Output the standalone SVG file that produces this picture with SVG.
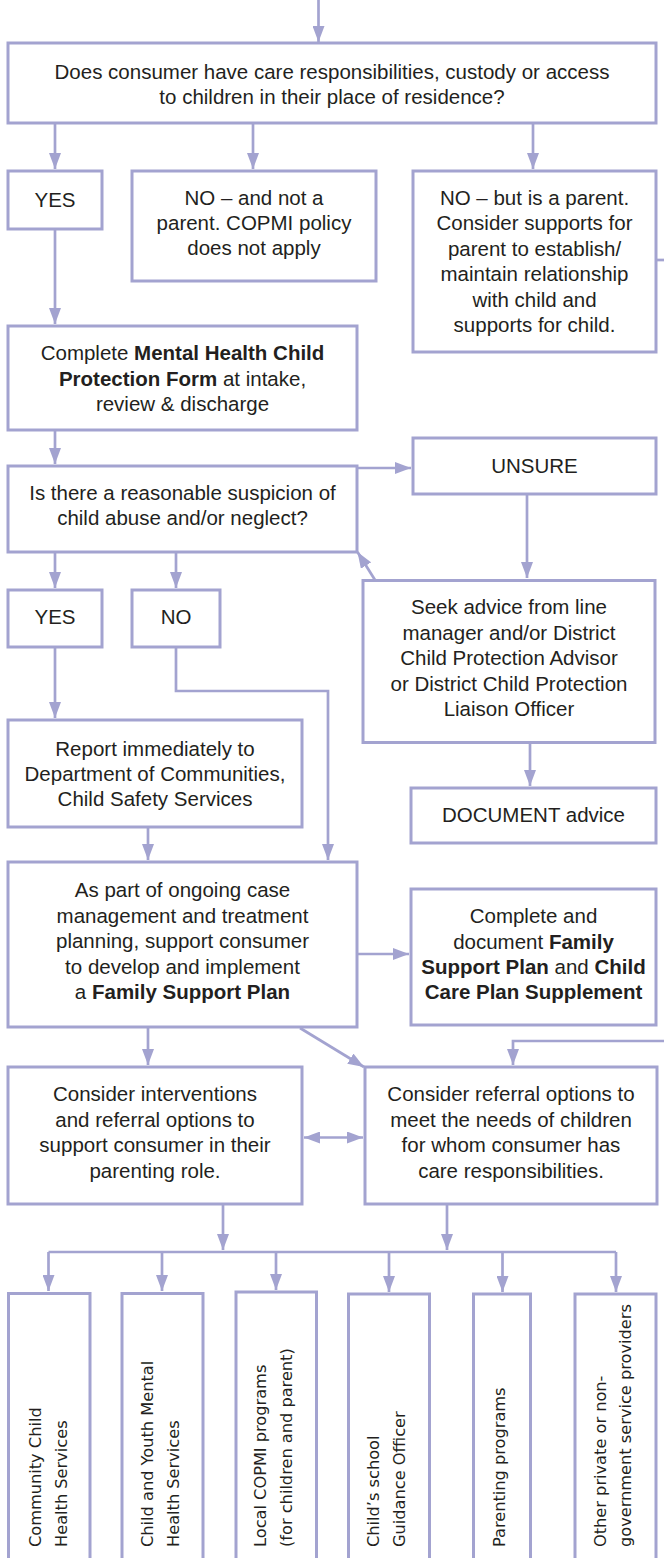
<svg xmlns="http://www.w3.org/2000/svg" width="664" height="1558" viewBox="0 0 664 1558">
<defs>
<style>
.box{fill:#fff;stroke:#A3A3D0;stroke-width:3}
.c{fill:none;stroke:#A3A3D0;stroke-width:2.7}
.a{marker-end:url(#ah)}
.t{font-family:"Liberation Sans",Arial,sans-serif;font-size:20.5px;fill:#231F20;text-anchor:middle}
.b{font-weight:bold}
.r{font-family:"DejaVu Sans",Verdana,sans-serif;font-size:16.2px;fill:#231F20}
</style>
<marker id="ah" viewBox="0 0 16 12" refX="16" refY="6" markerWidth="16" markerHeight="12" markerUnits="userSpaceOnUse" orient="auto-start-reverse">
<path d="M0,0 L16,6 L0,12 z" fill="#A3A3D0"/>
</marker>
</defs>
<rect width="664" height="1558" fill="#fff"/>

<g id="connectors">
<line class="c a" x1="318.5" y1="0" x2="318.5" y2="42"/>
<line class="c a" x1="55" y1="123" x2="55" y2="169"/>
<line class="c a" x1="253" y1="123" x2="253" y2="169"/>
<line class="c a" x1="533" y1="123" x2="533" y2="169"/>
<line class="c" x1="656" y1="260" x2="664" y2="260"/>
<line class="c a" x1="55" y1="229" x2="55" y2="324"/>
<line class="c a" x1="55" y1="430" x2="55" y2="464"/>
<line class="c a" x1="357" y1="468" x2="411" y2="468"/>
<line class="c a" x1="527" y1="494" x2="527" y2="578"/>
<line class="c a" x1="375" y1="580" x2="357.5" y2="552"/>
<line class="c a" x1="55" y1="552" x2="55" y2="588"/>
<line class="c a" x1="176" y1="552" x2="176" y2="588"/>
<polyline class="c a" points="176,647 176,691 328,691 328,860"/>
<line class="c a" x1="55" y1="647" x2="55" y2="718"/>
<line class="c a" x1="530" y1="743" x2="530" y2="786"/>
<line class="c a" x1="148" y1="827" x2="148" y2="860"/>
<line class="c a" x1="357" y1="954" x2="409" y2="954"/>
<line class="c a" x1="148" y1="1027" x2="148" y2="1065"/>
<line class="c a" x1="300" y1="1028" x2="364" y2="1067"/>
<polyline class="c a" points="664,1041 513,1041 513,1065"/>
<line class="c a" x1="304" y1="1137.5" x2="363" y2="1137.5" marker-start="url(#ah)"/>
<line class="c a" x1="223" y1="1204" x2="223" y2="1250"/>
<line class="c a" x1="447" y1="1204" x2="447" y2="1250"/>
<line class="c" x1="48.5" y1="1252" x2="616" y2="1252"/>
<line class="c a" x1="48.5" y1="1252" x2="48.5" y2="1291"/>
<line class="c a" x1="162" y1="1252" x2="162" y2="1291"/>
<line class="c a" x1="276" y1="1252" x2="276" y2="1290"/>
<line class="c a" x1="389" y1="1252" x2="389" y2="1292"/>
<line class="c a" x1="502.5" y1="1252" x2="502.5" y2="1292"/>
<line class="c a" x1="616" y1="1252" x2="616" y2="1292"/>
</g>

<g id="n-question1">
<rect class="box" x="8" y="43" width="648" height="80"/>
<text class="t" x="332" y="79">Does consumer have care responsibilities, custody or access</text>
<text class="t" x="332" y="104">to children in their place of residence?</text>
</g>

<g id="n-yes1">
<rect class="box" x="8" y="171" width="94" height="58"/>
<text class="t" x="55" y="207">YES</text>
</g>

<g id="n-no-not-parent">
<rect class="box" x="132" y="171" width="244" height="110"/>
<text class="t" x="254" y="205">NO – and not a</text>
<text class="t" x="254" y="230">parent. COPMI policy</text>
<text class="t" x="254" y="255">does not apply</text>
</g>

<g id="n-no-parent">
<rect class="box" x="413" y="171" width="243" height="181"/>
<text class="t" x="534.5" y="205">NO – but is a parent.</text>
<text class="t" x="534.5" y="230.4">Consider supports for</text>
<text class="t" x="534.5" y="255.8">parent to establish/</text>
<text class="t" x="534.5" y="281.2">maintain relationship</text>
<text class="t" x="534.5" y="306.6">with child and</text>
<text class="t" x="534.5" y="332">supports for child.</text>
</g>

<g id="n-form">
<rect class="box" x="8" y="326" width="349" height="104"/>
<text class="t" x="182.5" y="360">Complete <tspan class="b">Mental Health Child</tspan></text>
<text class="t" x="182.5" y="385.5"><tspan class="b">Protection Form</tspan> at intake,</text>
<text class="t" x="182.5" y="411">review &amp; discharge</text>
</g>

<g id="n-question2">
<rect class="box" x="8" y="466" width="349" height="86"/>
<text class="t" x="182.5" y="500">Is there a reasonable suspicion of</text>
<text class="t" x="182.5" y="525">child abuse and/or neglect?</text>
</g>

<g id="n-unsure">
<rect class="box" x="413" y="438" width="243" height="56"/>
<text class="t" x="534.5" y="473">UNSURE</text>
</g>

<g id="n-seek">
<rect class="box" x="363" y="580.5" width="292" height="162"/>
<text class="t" x="509" y="614">Seek advice from line</text>
<text class="t" x="509" y="639.5">manager and/or District</text>
<text class="t" x="509" y="665">Child Protection Advisor</text>
<text class="t" x="509" y="690.5">or District Child Protection</text>
<text class="t" x="509" y="716">Liaison Officer</text>
</g>

<g id="n-yes2">
<rect class="box" x="8" y="590" width="94" height="57"/>
<text class="t" x="55" y="624">YES</text>
</g>

<g id="n-no2">
<rect class="box" x="132" y="590" width="88" height="57"/>
<text class="t" x="176" y="624">NO</text>
</g>

<g id="n-report">
<rect class="box" x="8" y="720" width="294" height="107"/>
<text class="t" x="155" y="755.5">Report immediately to</text>
<text class="t" x="155" y="780.5">Department of Communities,</text>
<text class="t" x="155" y="805.5">Child Safety Services</text>
</g>

<g id="n-document">
<rect class="box" x="411" y="788" width="245" height="55"/>
<text class="t" x="533.5" y="822">DOCUMENT advice</text>
</g>

<g id="n-fsp">
<rect class="box" x="8" y="862" width="349" height="165"/>
<text class="t" x="182.5" y="897">As part of ongoing case</text>
<text class="t" x="182.5" y="922.5">management and treatment</text>
<text class="t" x="182.5" y="948">planning, support consumer</text>
<text class="t" x="182.5" y="973.5">to develop and implement</text>
<text class="t" x="182.5" y="999">a <tspan class="b">Family Support Plan</tspan></text>
</g>

<g id="n-complete">
<rect class="box" x="411" y="889" width="245" height="136"/>
<text class="t" x="533.5" y="923">Complete and</text>
<text class="t" x="533.5" y="948.5">document <tspan class="b">Family</tspan></text>
<text class="t" x="533.5" y="974"><tspan class="b">Support Plan</tspan> and <tspan class="b">Child</tspan></text>
<text class="t" x="533.5" y="998.5"><tspan class="b">Care Plan Supplement</tspan></text>
</g>

<g id="n-interventions">
<rect class="box" x="8" y="1067" width="294" height="137"/>
<text class="t" x="155" y="1100.5">Consider interventions</text>
<text class="t" x="155" y="1126.5">and referral options to</text>
<text class="t" x="155" y="1152">support consumer in their</text>
<text class="t" x="155" y="1178">parenting role.</text>
</g>

<g id="n-referral">
<rect class="box" x="365" y="1067" width="292" height="137"/>
<text class="t" x="511" y="1100.5">Consider referral options to</text>
<text class="t" x="511" y="1126.5">meet the needs of children</text>
<text class="t" x="511" y="1152">for whom consumer has</text>
<text class="t" x="511" y="1178">care responsibilities.</text>
</g>

<g id="n-community">
<rect class="box" x="8.5" y="1293.5" width="81.5" height="280"/>
<text class="r" transform="translate(41,1547) rotate(-90)">Community Child</text>
<text class="r" transform="translate(66.5,1547) rotate(-90)">Health Services</text>
</g>

<g id="n-cyms">
<rect class="box" x="122" y="1293.5" width="81" height="280"/>
<text class="r" transform="translate(152.5,1547) rotate(-90)">Child and Youth Mental</text>
<text class="r" transform="translate(179,1547) rotate(-90)">Health Services</text>
</g>

<g id="n-copmi">
<rect class="box" x="236" y="1292" width="80.5" height="280"/>
<text class="r" transform="translate(265.5,1547) rotate(-90)">Local COPMI programs</text>
<text class="r" transform="translate(292,1547) rotate(-90)">(for children and parent)</text>
</g>

<g id="n-school">
<rect class="box" x="348.5" y="1294" width="81" height="280"/>
<text class="r" transform="translate(379,1547) rotate(-90)">Child’s school</text>
<text class="r" transform="translate(404.5,1547) rotate(-90)">Guidance Officer</text>
</g>

<g id="n-parenting">
<rect class="box" x="473.5" y="1294" width="57" height="280"/>
<text class="r" transform="translate(505,1547) rotate(-90)">Parenting programs</text>
</g>

<g id="n-other">
<rect class="box" x="575" y="1294" width="81" height="280"/>
<text class="r" transform="translate(605.5,1547) rotate(-90)">Other private or non-</text>
<text class="r" transform="translate(631,1547) rotate(-90)">government service providers</text>
</g>
</svg>
